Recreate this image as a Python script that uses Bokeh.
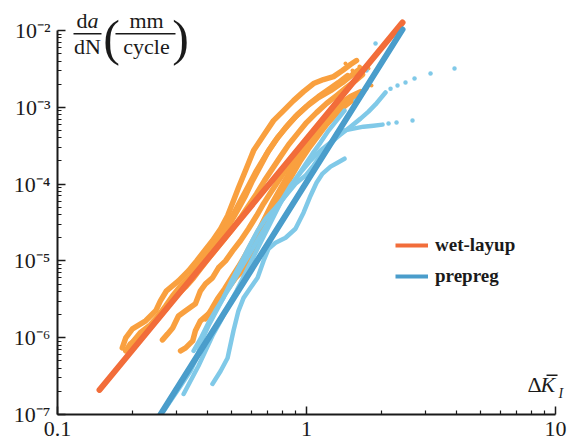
from bokeh.plotting import figure
from bokeh.models import Range1d, FixedTicker, Label, BoxAnnotation, Legend, LegendItem
from bokeh.embed import file_html
from bokeh.resources import INLINE

# ---------------- data ----------------
# wet-layup specimens: dK (normalised) vs da/dN (mm/cycle)
wet1_dK = [0.182, 0.188, 0.200, 0.226, 0.248, 0.259, 0.274, 0.306, 0.336, 0.362, 0.389, 0.419, 0.452, 0.482, 0.509,
           0.533, 0.569, 0.613, 0.672, 0.737, 0.809, 0.887, 0.973, 1.067, 1.170, 1.284, 1.395, 1.502, 1.588]
wet1_dadN = [7.36e-7, 9.94e-7, 1.30e-6, 1.66e-6, 2.24e-6, 3.02e-6, 4.08e-6, 5.50e-6, 7.43e-6, 1.00e-5, 1.35e-5, 1.83e-5,
             2.62e-5, 3.87e-5, 6.07e-5, 8.97e-5, 1.50e-4, 2.73e-4, 4.28e-4, 6.71e-4, 9.06e-4, 1.22e-3, 1.60e-3, 2.04e-3,
             2.30e-3, 2.51e-3, 3.01e-3, 3.60e-3, 4.06e-3]
wet2_dK = [0.193, 0.202, 0.215, 0.236, 0.254, 0.272, 0.290, 0.312, 0.342, 0.368, 0.397, 0.427, 0.460, 0.495, 0.533,
           0.569, 0.607, 0.654, 0.704, 0.765, 0.839, 0.920, 1.019, 1.117, 1.226, 1.344, 1.461]
wet2_dadN = [7.14e-7, 9.08e-7, 1.16e-6, 1.47e-6, 1.92e-6, 2.60e-6, 3.51e-6, 4.73e-6, 6.39e-6, 8.63e-6, 1.17e-5, 1.57e-5,
             2.12e-5, 3.14e-5, 4.78e-5, 7.06e-5, 1.11e-4, 1.74e-4, 2.73e-4, 4.03e-4, 5.77e-4, 8.03e-4, 1.09e-3, 1.38e-3,
             1.70e-3, 2.10e-3, 2.59e-3]
wet3_dK = [0.206, 0.220, 0.236, 0.252, 0.269, 0.284, 0.303, 0.327, 0.352, 0.375, 0.404, 0.435, 0.469, 0.505, 0.543,
           0.585, 0.630, 0.678, 0.730, 0.786, 0.847, 0.920, 1.000, 1.097, 1.203, 1.320, 1.448, 1.573, 1.679]
wet3_dadN = [8.55e-7, 1.09e-6, 1.38e-6, 1.76e-6, 2.24e-6, 2.84e-6, 3.61e-6, 4.59e-6, 6.02e-6, 7.89e-6, 1.07e-5, 1.44e-5,
             1.94e-5, 2.62e-5, 3.65e-5, 5.23e-5, 7.50e-5, 1.11e-4, 1.59e-4, 2.28e-4, 3.26e-4, 4.54e-4, 6.32e-4, 8.53e-4,
             1.12e-3, 1.42e-3, 1.81e-3, 2.23e-3, 2.67e-3]
wet4_dK = [0.264, 0.277, 0.290, 0.306, 0.327, 0.358, 0.375, 0.393, 0.419, 0.443, 0.473, 0.505, 0.543, 0.585, 0.630,
           0.672, 0.717, 0.772, 0.831, 0.895, 0.964, 1.047, 1.138, 1.249, 1.370, 1.502, 1.648]
wet4_dadN = [9.36e-7, 1.12e-6, 1.34e-6, 1.92e-6, 2.24e-6, 2.76e-6, 4.08e-6, 5.03e-6, 6.02e-6, 8.13e-6, 1.00e-5, 1.35e-5,
             1.83e-5, 2.62e-5, 3.87e-5, 5.55e-5, 7.72e-5, 1.11e-4, 1.59e-4, 2.28e-4, 3.17e-4, 4.54e-4, 6.32e-4, 8.53e-4,
             1.12e-3, 1.38e-3, 1.60e-3]
wet5_dK = [0.312, 0.327, 0.349, 0.358, 0.375, 0.404, 0.431, 0.460, 0.486, 0.519, 0.553, 0.585, 0.618, 0.654, 0.691,
           0.730, 0.779, 0.831, 0.887, 0.946, 1.019, 1.107, 1.203, 1.320, 1.448, 1.573]
wet5_dadN = [6.73e-7, 7.36e-7, 9.08e-7, 1.23e-6, 1.66e-6, 2.04e-6, 2.45e-6, 3.72e-6, 4.46e-6, 6.02e-6, 7.43e-6, 1.10e-5,
             1.57e-5, 2.32e-5, 3.33e-5, 4.78e-5, 6.85e-5, 9.82e-5, 1.41e-4, 2.02e-4, 2.89e-4, 4.15e-4, 5.95e-4, 8.28e-4,
             1.09e-3, 1.34e-3]
wet6_dK = [0.188, 0.196, 0.211, 0.228, 0.243, 0.259, 0.279, 0.298, 0.324, 0.352, 0.379, 0.408, 0.439, 0.473, 0.505,
           0.543, 0.585, 0.630, 0.685, 0.751, 0.824, 0.903, 1.000, 1.117, 1.249, 1.395, 1.530, 1.648]
wet6_dadN = [6.73e-7, 8.30e-7, 9.94e-7, 1.23e-6, 1.56e-6, 2.04e-6, 2.76e-6, 3.61e-6, 4.88e-6, 6.79e-6, 9.45e-6, 1.31e-5,
             1.83e-5, 2.62e-5, 3.87e-5, 6.07e-5, 9.53e-5, 1.50e-4, 2.35e-4, 3.68e-4, 5.44e-4, 7.56e-4, 1.02e-3, 1.34e-3,
             1.65e-3, 2.10e-3, 2.67e-3, 3.20e-3]
wet7_dK = [0.393, 0.416, 0.439, 0.469, 0.500, 0.533, 0.569, 0.607, 0.648, 0.691, 0.737, 0.794, 0.855, 0.920, 1.000,
           1.097, 1.214, 1.344, 1.502, 1.648]
wet7_dadN = [1.76e-6, 2.37e-6, 3.21e-6, 4.33e-6, 6.02e-6, 8.38e-6, 1.20e-5, 1.77e-5, 2.62e-5, 3.99e-5, 6.07e-5, 9.25e-5,
             1.41e-4, 2.14e-4, 3.17e-4, 4.68e-4, 6.71e-4, 9.06e-4, 1.19e-3, 1.42e-3]
wet_dots_dK = [1.530, 1.774, 1.742, 1.824, 1.679, 1.632, 1.434]
wet_dots_dadN = [3.01e-3, 3.20e-3, 1.75e-3, 1.92e-3, 1.56e-3, 3.39e-3, 3.71e-3]

# prepreg specimens
pre1_dK = [0.267, 0.284, 0.312, 0.342, 0.365, 0.379, 0.404, 0.435, 0.468, 0.505, 0.543, 0.585, 0.630, 0.678, 0.730,
           0.786, 0.847, 0.912, 0.982, 1.057, 1.138, 1.226, 1.320, 1.421]
pre1_dadN = [1.11e-7, 1.50e-7, 2.35e-7, 3.69e-7, 5.79e-7, 9.08e-7, 1.43e-6, 2.24e-6, 3.51e-6, 5.18e-6, 7.89e-6, 1.17e-5,
             1.77e-5, 2.62e-5, 3.87e-5, 5.72e-5, 8.20e-5, 1.21e-4, 1.74e-4, 2.49e-4, 3.47e-4, 4.97e-4, 6.71e-4, 9.06e-4]
pre2_dK = [0.321, 0.342, 0.368, 0.393, 0.419, 0.452, 0.486, 0.524, 0.569, 0.624, 0.672, 0.717, 0.758, 0.794, 0.863,
           0.946, 1.038, 1.138, 1.249, 1.370, 1.502, 1.648, 1.774, 1.893, 1.982, 2.076]
pre2_dadN = [1.85e-7, 2.73e-7, 4.29e-7, 6.73e-7, 1.06e-6, 1.66e-6, 2.60e-6, 4.08e-6, 7.00e-6, 1.28e-5, 2.06e-5, 3.14e-5,
             4.50e-5, 6.07e-5, 9.53e-5, 1.41e-4, 2.02e-4, 2.73e-4, 3.47e-4, 4.41e-4, 5.60e-4, 7.12e-4, 8.79e-4, 1.09e-3,
             1.30e-3, 1.56e-3]
pre3_dK = [0.419, 0.452, 0.482, 0.509, 0.533, 0.559, 0.596, 0.636, 0.672, 0.704, 0.751, 0.824, 0.903, 0.973, 1.038,
           1.097, 1.160, 1.249, 1.332, 1.421]
pre3_dadN = [2.50e-7, 3.69e-7, 5.45e-7, 1.23e-6, 2.24e-6, 3.30e-6, 4.46e-6, 6.02e-6, 1.00e-5, 1.44e-5, 1.72e-5, 2.00e-5,
             2.62e-5, 4.24e-5, 7.06e-5, 1.04e-4, 1.37e-4, 1.69e-4, 1.90e-4, 2.14e-4]
pre4_dK = [0.352, 0.375, 0.404, 0.431, 0.464, 0.500, 0.543, 0.585, 0.636, 0.685, 0.751, 0.824, 0.903, 0.991, 1.067,
           1.138, 1.214, 1.308, 1.408, 1.544, 1.694, 1.858, 2.020]
pre4_dadN = [6.73e-7, 9.64e-7, 1.56e-6, 2.24e-6, 3.30e-6, 5.50e-6, 9.17e-6, 1.48e-5, 2.47e-5, 3.54e-5, 4.92e-5, 7.06e-5,
             1.01e-4, 1.29e-4, 1.74e-4, 2.35e-4, 2.98e-4, 3.91e-4, 4.97e-4, 5.28e-4, 5.60e-4, 5.77e-4, 5.95e-4]
pre_dots_dK = [1.573, 1.742, 1.893, 2.175, 2.320, 2.498, 2.715, 3.148, 3.930, 2.135, 2.299, 2.665]
pre_dots_dadN = [1.22e-3, 3.01e-3, 6.77e-3, 1.75e-3, 1.92e-3, 2.10e-3, 2.37e-3, 2.75e-3, 3.20e-3, 6.13e-4, 6.32e-4,
                 6.71e-4]

# power-law fits (end points)
wet_fit_dK = [0.1475, 2.43]
wet_fit_dadN = [2.09e-7, 1.27e-2]
pre_fit_dK = [0.259, 2.43]
pre_fit_dadN = [1.0e-7, 1.03e-2]

series_names = ["wet-layup", "prepreg"]
x_ticks = [0.1, 1, 10]
x_tick_labels = ["0.1", "1", "10"]
y_ticks = [1e-7, 1e-6, 1e-5, 1e-4, 1e-3, 1e-2]
y_tick_labels = ["10\u207b\u2077", "10\u207b\u2076", "10\u207b\u2075", "10\u207b\u2074", "10\u207b\u00b3", "10\u207b\u00b2"]

# ---------------- style ----------------
WET_PT = "#F9A03F"
WET_FIT = "#F26D3A"
PRE_PT = "#80C9E8"
PRE_FIT = "#4A9DCB"
INK = "#1a1a1a"
SERIF = "serif"

p = figure(width=568, height=448, x_axis_type="log", y_axis_type="log",
           x_range=Range1d(0.1, 11.276), y_range=Range1d(1e-7, 0.02458),
           output_backend="svg", toolbar_location=None,
           min_border_left=57, min_border_right=0, min_border_top=0, min_border_bottom=34)
p.outline_line_color = None
p.grid.visible = False

x_minor = [m * d for d in (0.1, 1) for m in range(2, 10)]
y_minor = [m * d for d in (1e-7, 1e-6, 1e-5, 1e-4, 1e-3) for m in range(2, 10)]
p.xaxis.ticker = FixedTicker(ticks=x_ticks, minor_ticks=x_minor)
p.yaxis.ticker = FixedTicker(ticks=y_ticks, minor_ticks=y_minor)
p.xaxis.major_label_overrides = dict(zip(x_ticks, x_tick_labels))
p.yaxis.major_label_overrides = dict(zip(y_ticks, y_tick_labels))
p.xaxis.bounds = (0.1, 10)
p.yaxis.bounds = (1e-7, 1e-2)

for ax in (p.xaxis[0], p.yaxis[0]):
    ax.axis_line_width = 2
    ax.axis_line_color = INK
    ax.major_tick_in = 8
    ax.major_tick_out = 0
    ax.minor_tick_in = 4
    ax.minor_tick_out = 0
    ax.major_tick_line_width = 1.5
    ax.minor_tick_line_width = 1.2
    ax.major_tick_line_color = INK
    ax.minor_tick_line_color = INK
    ax.major_label_text_font = SERIF
    ax.major_label_text_font_size = "22px"
    ax.major_label_text_color = INK
p.yaxis.major_label_standoff = 7
p.xaxis.major_label_standoff = 7

# data curves
for dk, r in [(wet1_dK, wet1_dadN), (wet2_dK, wet2_dadN), (wet3_dK, wet3_dadN), (wet6_dK, wet6_dadN),
              (wet4_dK, wet4_dadN), (wet5_dK, wet5_dadN), (wet7_dK, wet7_dadN)]:
    p.line(dk, r, line_color=WET_PT, line_width=5.5, line_cap="round", line_join="round")
p.scatter(wet_dots_dK, wet_dots_dadN, size=4, color=WET_PT, line_width=0)

for dk, r in [(pre1_dK, pre1_dadN), (pre2_dK, pre2_dadN), (pre3_dK, pre3_dadN), (pre4_dK, pre4_dadN)]:
    p.line(dk, r, line_color=PRE_PT, line_width=4.5, line_cap="round", line_join="round")
p.scatter(pre_dots_dK, pre_dots_dadN, size=4.5, color=PRE_PT, line_width=0)

# fits
p.line(wet_fit_dK, wet_fit_dadN, line_color=WET_FIT, line_width=6, line_cap="round")
p.line(pre_fit_dK, pre_fit_dadN, line_color=PRE_FIT, line_width=6, line_cap="round")
wet_leg = p.line(wet_fit_dK, wet_fit_dadN, line_color=WET_FIT, line_width=4, line_cap="butt")
pre_leg = p.line(pre_fit_dK, pre_fit_dadN, line_color=PRE_FIT, line_width=4, line_cap="butt")

legend = Legend(items=[LegendItem(label=series_names[0], renderers=[wet_leg]),
                       LegendItem(label=series_names[1], renderers=[pre_leg])],
                location=(338, 127), glyph_width=33, glyph_height=20, label_standoff=7, spacing=9,
                padding=0, margin=0, border_line_alpha=0, background_fill_alpha=0,
                label_text_font=SERIF, label_text_font_style="bold", label_text_font_size="19px",
                label_text_color=INK)
p.add_layout(legend)


def lab(x, y, text, size, style="normal", align="left"):
    p.add_layout(Label(x=x, y=y, text=text, text_font=SERIF, text_font_size=size, text_font_style=style,
                       text_align=align, text_baseline="middle", text_color=INK))


def bar(x0, x1, y0, y1):
    p.add_layout(BoxAnnotation(left=x0, right=x1, bottom=y0, top=y1, fill_color=INK, fill_alpha=1,
                               line_alpha=0))


# y-axis title:  da/dN (mm/cycle)
lab(0.13196, 1.3497e-2, "d", "22px", align="right")
lab(0.13196, 1.3497e-2, "a", "22px", style="italic", align="left")
bar(0.11594, 0.15021, 8.867e-3, 9.277e-3)
lab(0.13196, 6.189e-3, "dN", "22px", align="center")
lab(0.16472, 8.105e-3, "(", "50px", align="center")
lab(0.22771, 1.3497e-2, "mm", "22px", align="center")
bar(0.17093, 0.29775, 8.867e-3, 9.277e-3)
lab(0.22771, 6.189e-3, "cycle", "22px", align="center")
lab(0.31192, 8.105e-3, ")", "50px", align="center")

# x-axis title:  ΔK̄_I
lab(7.720, 2.458e-7, "\u0394", "22px")
lab(8.706, 2.458e-7, "K", "22px", style="italic")
lab(10.28, 1.877e-7, "I", "14px", style="italic")
bar(9.203, 10.187, 3.1753e-7, 3.3215e-7)

open("out.html", "w").write(file_html(p, INLINE))
